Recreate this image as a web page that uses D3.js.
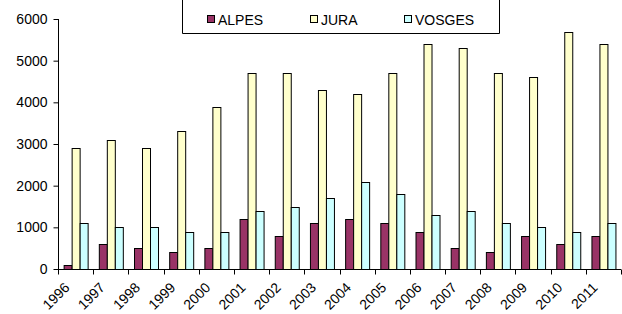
<!DOCTYPE html>
<html>
<head>
<meta charset="utf-8">
<script src="https://cdn.jsdelivr.net/npm/d3@7"></script>
<style>
  body { margin: 0; background: #fff; }
  svg text { font-family: "Liberation Sans", Arial, sans-serif; fill: #000; }
</style>
</head>
<body>
<div id="chart"></div>
<script>
// data
var years = ["1996", "1997", "1998", "1999", "2000", "2001", "2002", "2003",
             "2004", "2005", "2006", "2007", "2008", "2009", "2010", "2011"];
var seriesNames = ["ALPES", "JURA", "VOSGES"];
var alpes  = [100, 600, 500, 400, 500, 1200, 800, 1100, 1200, 1100, 900, 500, 400, 800, 600, 800];
var jura   = [2900, 3100, 2900, 3300, 3900, 4700, 4700, 4300, 4200, 4700, 5400, 5300, 4700, 4600, 5700, 5400];
var vosges = [1100, 1000, 1000, 900, 900, 1400, 1500, 1700, 2100, 1800, 1300, 1400, 1100, 1000, 900, 1100];
var yTicks = [0, 1000, 2000, 3000, 4000, 5000, 6000];
var colors = ["#993366", "#FFFFCC", "#CCFFFF"];

var width = 622, height = 314;
var margin = { top: 19, right: 1, bottom: 45, left: 58 };
var w = width - margin.left - margin.right;
var h = height - margin.top - margin.bottom;
var fontFam = "'Liberation Sans', Arial, sans-serif";

var svg = d3.select("#chart").append("svg")
  .attr("width", width)
  .attr("height", height);

var g = svg.append("g").attr("transform", "translate(" + margin.left + "," + margin.top + ")");

var x = d3.scaleBand().domain(years).range([0, w]).paddingInner(0.32).paddingOuter(0.16);
var xBand = d3.scaleBand().domain(years).range([0, w]);
var xs = d3.scaleBand().domain(seriesNames).range([0, x.bandwidth()]);
var y = d3.scaleLinear().domain([0, 6000]).range([h, 0]);

var table = years.map(function (yr, i) {
  return { year: yr, values: [alpes[i], jura[i], vosges[i]] };
});

// bars
var groups = g.selectAll(".grp")
  .data(table)
  .enter().append("g")
  .attr("class", "grp")
  .attr("transform", function (d) { return "translate(" + x(d.year) + ",0)"; });

groups.selectAll("rect")
  .data(function (d) { return d.values.map(function (v, k) { return { s: seriesNames[k], v: v, k: k }; }); })
  .enter().append("rect")
  .attr("x", function (d) { return Math.round(xs(d.s)) + 0.5; })
  .attr("y", function (d) { return Math.round(y(d.v)) + 0.5; })
  .attr("width", Math.round(xs.bandwidth()))
  .attr("height", function (d) { return h - Math.round(y(d.v)); })
  .attr("fill", function (d) { return colors[d.k]; })
  .attr("stroke", "#000")
  .attr("stroke-width", 1);

// y axis
var yAxis = g.append("g")
  .attr("transform", "translate(0.5,0)")
  .call(d3.axisLeft(y).tickValues(yTicks).tickSize(5).tickPadding(6).tickFormat(d3.format("d")));
yAxis.attr("font-family", fontFam).attr("font-size", 14);
yAxis.selectAll("line, path").attr("stroke", "#000");
yAxis.select(".domain").attr("d", "M0," + h + "V0");

// x axis with ticks between categories
var xAxisG = g.append("g")
  .attr("transform", "translate(0," + (h + 0.5) + ")")
  .attr("font-family", fontFam).attr("font-size", 14);
xAxisG.append("line").attr("x1", 0).attr("x2", w).attr("stroke", "#000");
xAxisG.selectAll(".tk")
  .data(years.concat(["end"]))
  .enter().append("line")
  .attr("x1", function (d, i) { return Math.round(i * xBand.step()) + 0.5; })
  .attr("x2", function (d, i) { return Math.round(i * xBand.step()) + 0.5; })
  .attr("y1", 0).attr("y2", 5)
  .attr("stroke", "#000");

xAxisG.selectAll(".lbl")
  .data(years)
  .enter().append("text")
  .attr("transform", function (d) {
    return "translate(" + (xBand(d) + xBand.bandwidth() / 2 - 5) + ",19) rotate(-45)";
  })
  .attr("text-anchor", "end")
  .text(function (d) { return d; });

// legend
var legend = svg.append("g").attr("font-family", fontFam).attr("font-size", 14);
legend.append("path")
  .attr("d", "M182.5,0V33.5H499.5V0")
  .attr("fill", "none")
  .attr("stroke", "#000");
var legX = [207, 310, 404];
var li = legend.selectAll(".li")
  .data(seriesNames)
  .enter().append("g")
  .attr("transform", function (d, i) { return "translate(" + legX[i] + ",0)"; });
li.append("rect")
  .attr("x", 0.5).attr("y", 15.5)
  .attr("width", 7).attr("height", 7)
  .attr("fill", function (d, i) { return colors[i]; })
  .attr("stroke", "#000");
li.append("text")
  .attr("x", 11).attr("y", 25)
  .text(function (d) { return d; });
</script>
</body>
</html>
